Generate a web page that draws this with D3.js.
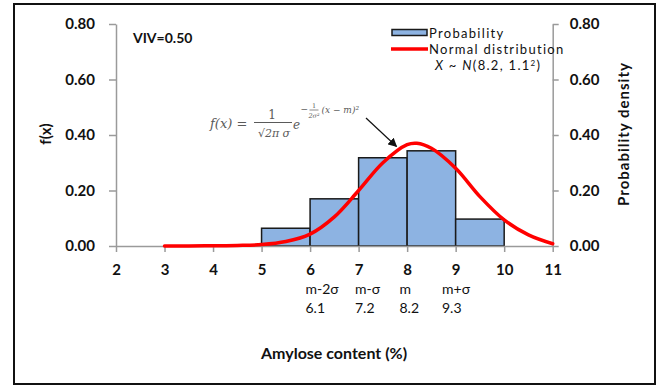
<!DOCTYPE html>
<html>
<head>
<meta charset="utf-8">
<script src="https://cdn.jsdelivr.net/npm/d3@7"></script>
<style>
  html, body { margin: 0; padding: 0; background: #fff; }
  svg { display: block; }
  .tick text { font-family: Lato, "Open Sans", sans-serif; font-weight: bold; font-size: 15px; fill: #111; }
</style>
</head>
<body>
<svg id="chart" width="661" height="386"></svg>
<script>
// Histogram of amylose content (bin edges and probabilities)
const binStart = [5, 6, 7, 8, 9];
const binEnd = [6, 7, 8, 9, 10];
const probability = [0.064, 0.170, 0.318, 0.343, 0.097];

// Fitted normal density read at sample points
const curveX = [3, 3.5, 4, 4.5, 5, 5.5, 6, 6.5, 7, 7.5, 8, 8.2, 8.5, 9, 9.5, 10, 10.5, 11];
const curveY = [0.000, 0.000, 0.001, 0.002, 0.005, 0.016, 0.043, 0.105, 0.200, 0.300, 0.365, 0.370, 0.352, 0.280, 0.178, 0.094, 0.040, 0.008];

// Axis ticks
const xTicks = [2, 3, 4, 5, 6, 7, 8, 9, 10, 11];
const yTicks = [0, 0.2, 0.4, 0.6, 0.8];

// Sigma markers under the x axis
const sigmaNames = ["m-2σ", "m-σ", "m", "m+σ"];
const sigmaValues = ["6.1", "7.2", "8.2", "9.3"];

const svg = d3.select("#chart");
const font = "Lato, 'Open Sans', sans-serif";

const x = d3.scaleLinear().domain([2, 11]).range([116, 552.7]);
const y = d3.scaleLinear().domain([0, 0.8]).range([246, 24]);

// outer frame
svg.append("rect")
  .attr("x", 14).attr("y", 4).attr("width", 641).attr("height", 380)
  .attr("fill", "#fff").attr("stroke", "#111").attr("stroke-width", 2);

// bars
svg.append("g").selectAll("rect")
  .data(probability)
  .join("rect")
  .attr("x", (d, i) => x(binStart[i]))
  .attr("width", (d, i) => x(binEnd[i]) - x(binStart[i]))
  .attr("y", d => y(d))
  .attr("height", d => y(0) - y(d))
  .attr("fill", "#8DB3E2")
  .attr("stroke", "#1a1a1a")
  .attr("stroke-width", 1.5);

// axes
function styleAxis(g) {
  g.selectAll(".domain").attr("stroke", "#9a9a9a").attr("stroke-width", 1.5);
  g.selectAll(".tick line").attr("stroke", "#9a9a9a").attr("stroke-width", 1.5);
}

svg.append("g")
  .attr("transform", `translate(${x(2)},0)`)
  .call(d3.axisLeft(y).tickValues(yTicks).tickFormat(d3.format(".2f")).tickSize(7).tickSizeOuter(0).tickPadding(14))
  .call(styleAxis);

svg.append("g")
  .attr("transform", `translate(${x(11)},0)`)
  .call(d3.axisRight(y).tickValues(yTicks).tickFormat(d3.format(".2f")).tickSize(6).tickSizeOuter(0).tickPadding(11))
  .call(styleAxis);

svg.append("g")
  .attr("transform", `translate(0,${y(0)})`)
  .call(d3.axisBottom(x).tickValues(xTicks).tickFormat(d3.format("d")).tickSize(6).tickSizeOuter(0).tickPadding(12))
  .call(styleAxis);

// normal curve
const line = d3.line()
  .x((d, i) => x(curveX[i]))
  .y(d => y(d))
  .curve(d3.curveCatmullRom.alpha(0.5));

svg.append("path")
  .datum(curveY)
  .attr("d", line)
  .attr("fill", "none")
  .attr("stroke", "#FF0000")
  .attr("stroke-width", 3.5)
  .attr("stroke-linecap", "round");

// sigma marker rows
const sigmaLeft = [305.5, 355, 399.5, 442];
svg.append("g").selectAll("text")
  .data(sigmaNames)
  .join("text")
  .attr("x", (d, i) => sigmaLeft[i])
  .attr("y", 294)
  .attr("font-family", font).attr("font-size", 14).attr("fill", "#111")
  .text(d => d);
svg.append("g").selectAll("text")
  .data(sigmaValues)
  .join("text")
  .attr("x", (d, i) => sigmaLeft[i])
  .attr("y", 313)
  .attr("font-family", font).attr("font-size", 14).attr("fill", "#111")
  .text(d => d);

// axis titles
svg.append("text")
  .attr("x", 334).attr("y", 358.5)
  .attr("text-anchor", "middle")
  .attr("font-family", font).attr("font-weight", "bold").attr("font-size", 16).attr("fill", "#111")
  .text("Amylose content (%)");

svg.append("text")
  .attr("transform", "translate(51,134) rotate(-90)")
  .attr("text-anchor", "middle")
  .attr("font-family", font).attr("font-weight", "bold").attr("font-size", 15).attr("fill", "#111")
  .text("f(x)");

svg.append("text")
  .attr("transform", "translate(628.5,134) rotate(-90)")
  .attr("text-anchor", "middle")
  .attr("font-family", font).attr("font-weight", "bold").attr("font-size", 15)
  .attr("letter-spacing", 1).attr("fill", "#111")
  .text("Probability density");

// VIV annotation
svg.append("text")
  .attr("x", 133).attr("y", 42.5)
  .attr("font-family", font).attr("font-weight", "bold").attr("font-size", 14).attr("fill", "#111")
  .text("VIV=0.50");

// legend
const leg = svg.append("g").attr("font-family", font).attr("font-size", 13)
  .attr("letter-spacing", 1.3).attr("fill", "#111");
leg.append("rect").attr("x", 392).attr("y", 29.5).attr("width", 35).attr("height", 6)
  .attr("fill", "#8DB3E2").attr("stroke", "#1a1a1a").attr("stroke-width", 1.5);
leg.append("text").attr("x", 429).attr("y", 37.5).text("Probability");
leg.append("line").attr("x1", 391).attr("x2", 428).attr("y1", 49).attr("y2", 49)
  .attr("stroke", "#FF0000").attr("stroke-width", 3.5);
leg.append("text").attr("x", 429).attr("y", 53.5).text("Normal distribution");
const nt = leg.append("text").attr("x", 435).attr("y", 69.5);
nt.append("tspan").attr("font-style", "italic").text("X");
nt.append("tspan").text(" ~ ");
nt.append("tspan").attr("font-style", "italic").text("N");
nt.append("tspan").text("(8.2, 1.1");
nt.append("tspan").attr("font-size", 8).attr("dy", -4).text("2");
nt.append("tspan").attr("dy", 4).text(")");

// density formula
const fm = svg.append("g")
  .attr("font-family", "'DejaVu Serif', 'Liberation Serif', serif")
  .attr("fill", "#5a5a5a").attr("font-style", "italic");
fm.append("text").attr("x", 210).attr("y", 128).attr("font-size", 13).text("f(x) =");
fm.append("text").attr("x", 272).attr("y", 119).attr("font-size", 12).attr("text-anchor", "middle").attr("font-style", "normal").text("1");
fm.append("line").attr("x1", 254).attr("x2", 292).attr("y1", 122.5).attr("y2", 122.5).attr("stroke", "#5a5a5a").attr("stroke-width", 1);
fm.append("text").attr("x", 274).attr("y", 137).attr("font-size", 11).attr("text-anchor", "middle").text("√2π σ");
fm.append("text").attr("x", 293).attr("y", 129).attr("font-size", 12).text("e");
fm.append("text").attr("x", 300.5).attr("y", 112).attr("font-size", 9).attr("font-style", "normal").text("−");
fm.append("text").attr("x", 314).attr("y", 107.5).attr("font-size", 6.5).attr("text-anchor", "middle").attr("font-style", "normal").text("1");
fm.append("line").attr("x1", 309.5).attr("x2", 318.5).attr("y1", 110).attr("y2", 110).attr("stroke", "#5a5a5a").attr("stroke-width", 0.7);
fm.append("text").attr("x", 314).attr("y", 117.5).attr("font-size", 6.5).attr("text-anchor", "middle").text("2σ²");
fm.append("text").attr("x", 321.5).attr("y", 113).attr("font-size", 9).text("(x − m)²");

// arrow to the curve peak
svg.append("defs").append("marker")
  .attr("id", "head").attr("viewBox", "0 0 10 10").attr("refX", 9).attr("refY", 5)
  .attr("markerWidth", 9).attr("markerHeight", 9).attr("markerUnits", "userSpaceOnUse")
  .attr("orient", "auto")
  .append("path").attr("d", "M0,0 L10,5 L0,10 z").attr("fill", "#111");
svg.append("line")
  .attr("x1", 366).attr("y1", 118).attr("x2", 396.5).attr("y2", 146.5)
  .attr("stroke", "#111").attr("stroke-width", 1.2)
  .attr("marker-end", "url(#head)");
</script>
</body>
</html>
